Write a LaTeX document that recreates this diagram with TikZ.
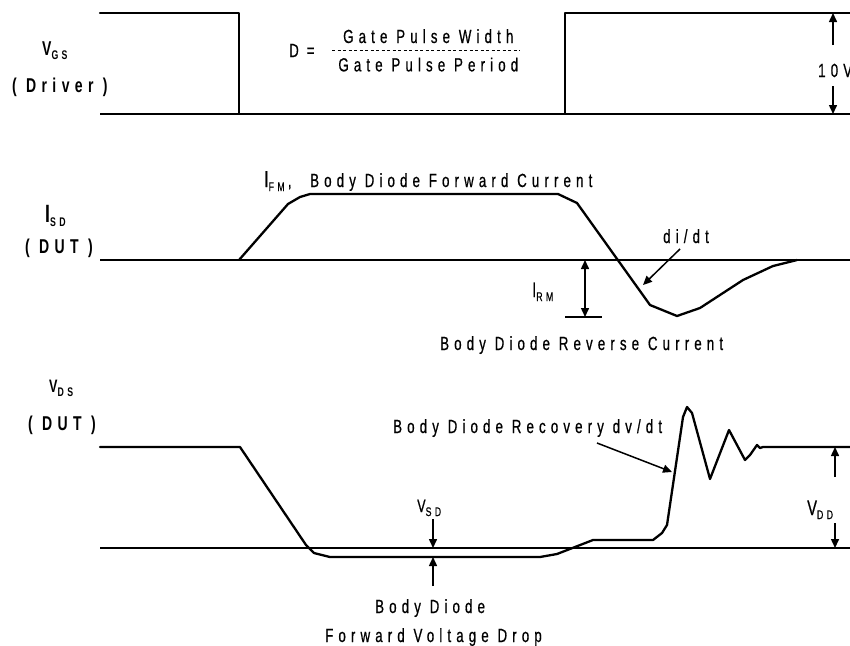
\documentclass[tikz,border=0pt]{standalone}
\usepackage{fontspec}
\setmainfont{Liberation Sans}[FakeStretch=0.7, LetterSpace=27, UprightFeatures={FakeBold=0.6}]
\usepackage{tikz}
\usetikzlibrary{arrows.meta,positioning}
\newcommand{\lo}[1]{\raisebox{-4pt}{\fontsize{12.5}{12.5}\selectfont #1}}
\newcommand{\sigsize}[2]{{\fontsize{#1}{#1}\selectfont #2}}
\tikzstyle{trace} = [draw, line width=2.3pt, line join=round, line cap=round]
\tikzstyle{axis} = [draw, line width=1.2pt]
\tikzstyle{lbl} = [draw=none, inner sep=0pt, anchor=base west, font=\fontsize{19}{19}\selectfont]
\tikzstyle{sig} = [lbl, font=\bfseries\fontsize{20}{20}\selectfont]
\tikzstyle{dimarrow} = [draw, line width=1.5pt, -{Triangle[length=9pt,width=8pt]}]

\begin{document}
\begin{tikzpicture}[x=1pt, y=-1pt]
\useasboundingbox (0,0) rectangle (850,645);

% gate drive =============================

% labels
\node[sig] (vgs) at (42,55) {V\lo{\bfseries GS}};
\node[sig] (drv) at (12,92) {( Driver )};
\node[lbl] (deq) at (289,57) {D\hspace{8pt}=};
\node[lbl] (gpw) at (343,43) {Gate Pulse Width};
\node[lbl, below=14pt of gpw] (gpp) {Gate Pulse Period};
\node[lbl] (ten) at (818,77) {10V};

% trace
\draw[axis] (100,114) -- (850,114);
\draw[trace] (100,13) -- (239,13) -- (239,114) -- (565,114) -- (565,13) -- (850,13);
\draw[line width=1pt, dash pattern=on 3pt off 2.5pt] (332,50) -- (520,50);

% edges
\coordinate (tenhi) at (833,13);
\coordinate (tenlo) at (833,114);
\path[dimarrow] (833,45) -- (tenhi);
\path[dimarrow] (833,86) -- (tenlo);

% diode current ==========================

% labels
\node[sig] (isd) at (45,222) {\sigsize{25}{I}\lo{\bfseries SD}};
\node[sig] (dut1) at (25,253) {( DUT )};
\node[lbl] (ifm) at (264,187) {\sigsize{23}{I}\lo{FM}\,,};
\node[lbl] (fwdi) at (310,187) {Body Diode Forward Current};
\node[lbl] (didt) at (663,243) {di/dt};
\node[lbl] (irm) at (532,297) {\sigsize{21}{I}\lo{RM}};
\node[lbl] (revi) at (440,350) {Body Diode Reverse Current};

% trace
\draw[axis] (100,260) -- (850,260);
\draw[trace] (239,260) -- (288,204) -- (300,197) -- (310,194) -- (558,194) -- (577,203)
  -- (650,305) -- (677,316) -- (700,308) -- (743,280) -- (773,266) -- (797,260);
\draw[axis] (565,317) -- (602,317);

% edges
\coordinate (didtpt) at (643,285);
\coordinate (irmhi) at (585,260);
\coordinate (irmlo) at (585,317);
\path[dimarrow] (680,249) -- (didtpt);
\path[dimarrow, {Triangle[length=9pt,width=8pt]}-{Triangle[length=9pt,width=8pt]}] (irmhi) -- (irmlo);

% drain voltage ==========================

% labels
\node[sig] (vds) at (49,392) {\sigsize{18}{V}\lo{\bfseries DS}};
\node[sig] (dut2) at (28,430) {( DUT )};
\node[lbl] (dvdt) at (393,433) {Body Diode Recovery dv/dt};
\node[lbl] (vsd) at (417,512) {\sigsize{18}{V}\lo{SD}};
\node[lbl] (vfd1) at (375,613) {Body Diode};
\node[lbl] (vfd2) at (325,642) {Forward Voltage Drop};
\node[lbl] (vdd) at (807,515) {\sigsize{21}{V}\lo{DD}};

% trace
\draw[axis] (100,548) -- (850,548);
\draw[trace] (100,447) -- (240,447) -- (306,545) -- (314,553) -- (330,557) -- (540,557)
  -- (557,554) -- (593,540) -- (653,540) -- (662,533) -- (667,525) -- (683,417) -- (687,407)
  -- (692,413) -- (710,479) -- (729,430) -- (745,460) -- (750,455) -- (757,445) -- (760,448)
  -- (763,447) -- (850,447);

% edges
\coordinate (dvdtpt) at (672,472);
\coordinate (vsdhi) at (433,548);
\coordinate (vsdlo) at (433,557);
\coordinate (vddhi) at (835,447);
\coordinate (vddlo) at (835,548);
\path[dimarrow] (597,443) -- (dvdtpt);
\path[dimarrow] (433,519) -- (vsdhi);
\path[dimarrow] (433,586) -- (vsdlo);
\path[dimarrow] (835,477) -- (vddhi);
\path[dimarrow] (835,523) -- (vddlo);

\end{tikzpicture}
\end{document}
